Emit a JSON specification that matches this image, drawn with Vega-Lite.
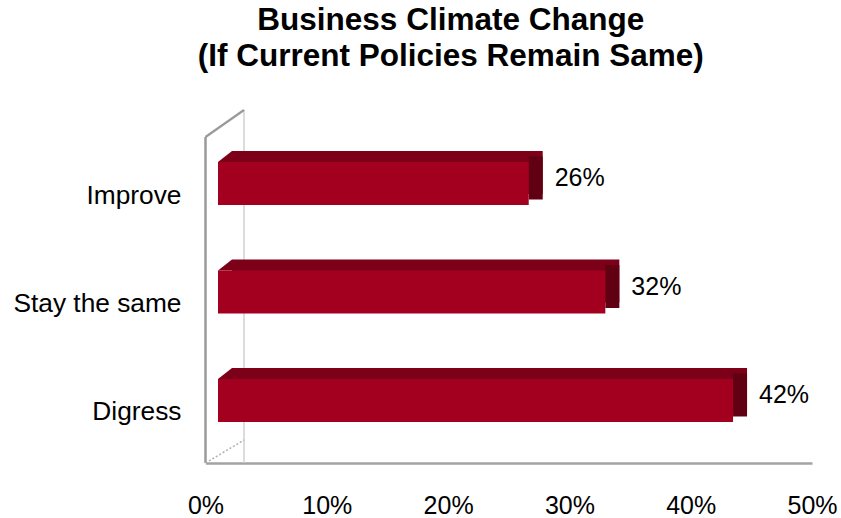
{
  "$schema": "https://vega.github.io/schema/vega-lite/v6.json",
  "width": 606.5,
  "height": 326,
  "autosize": "none",
  "padding": {"left": 205.5, "top": 137, "right": 29, "bottom": 55},
  "background": "white",
  "title": {
    "text": ["Business Climate Change", "(If Current Policies Remain Same)"],
    "font": "Liberation Sans",
    "fontSize": 31.5,
    "fontWeight": "bold",
    "color": "black",
    "lineHeight": 36,
    "anchor": "middle",
    "frame": "group",
    "dx": -58,
    "offset": 33
  },
  "data": {
    "values": [
      {"category": "Improve", "value": 0.26},
      {"category": "Stay the same", "value": 0.32},
      {"category": "Digress", "value": 0.42}
    ]
  },
  "resolve": {
    "scale": {"x": "independent", "y": "independent"},
    "axis": {"x": "independent", "y": "independent"}
  },
  "layer": [
    {
      "data": {"values": [{}]},
      "layer": [
        {
          "mark": {"type": "rule", "color": "#d0d0d0", "strokeWidth": 1.5, "xOffset": 38.5, "yOffset": -27, "y2Offset": -23},
          "encoding": {
            "x": {"datum": 0, "type": "quantitative", "scale": {"domain": [0, 0.5]},
              "axis": {
                "values": [0, 0.1, 0.2, 0.3, 0.4, 0.5],
                "format": ".0%",
                "grid": false,
                "ticks": false,
                "tickSize": 0,
                "domainColor": "#a3a3a3",
                "domainWidth": 2.5,
                "labelFontSize": 25,
                "labelColor": "black",
                "labelFont": "Liberation Sans",
                "labelPadding": 30,
                "labelFlush": false,
                "labelOverlap": false,
                "title": null
              }
            }
          }
        },
        {
          "mark": {"type": "rule", "color": "#9a9a9a", "strokeWidth": 2.5},
          "encoding": {"x": {"datum": 0, "type": "quantitative"}}
        },
        {
          "mark": {"type": "point", "shape": "M0,0L1,-0.7013", "size": 5929, "filled": false, "stroke": "#9a9a9a", "strokeWidth": 2.2, "opacity": 1},
          "encoding": {
            "x": {"datum": 0, "type": "quantitative"},
            "y": {"datum": 1, "type": "quantitative", "scale": {"domain": [0, 1]}, "axis": null}
          }
        },
        {
          "mark": {"type": "point", "shape": "M0,0L1,-0.597", "size": 5929, "filled": false, "stroke": "#b0b0b0", "strokeWidth": 1.5, "strokeDash": [2, 2], "opacity": 1},
          "encoding": {
            "x": {"datum": 0, "type": "quantitative"},
            "y": {"datum": 0, "type": "quantitative"}
          }
        }
      ]
    },
    {
      "transform": [
        {"stack": "value", "groupby": ["category"], "as": ["v0", "v1"]}
      ],
      "layer": [
        {
          "mark": {"type": "rect", "color": "#7b0018", "xOffset": 35.3, "x2Offset": 14, "yOffset": -11},
          "encoding": {
            "x": {"field": "v0", "type": "quantitative", "scale": {"domain": [0, 0.5], "range": [-8.8, 629.7]}, "axis": null},
            "x2": {"field": "v1"},
            "y": {
              "field": "category",
              "type": "nominal",
              "sort": ["Improve", "Stay the same", "Digress"],
              "scale": {"range": [-16, 326], "paddingInner": 0.6037, "paddingOuter": 0.378},
              "axis": {
                "orient": "left",
                "title": null,
                "domain": false,
                "ticks": false,
                "tickSize": 0,
                "labelFontSize": 26.3,
                "labelFont": "Liberation Sans",
                "labelColor": "black",
                "labelPadding": 24.5,
                "labelOffset": 12,
                "labelBaseline": "middle"
              }
            }
          }
        },
        {
          "mark": {"type": "point", "shape": "M0,0L1,-0.7857L1,0Z", "size": 784, "filled": true, "color": "#7b0018", "opacity": 1, "strokeWidth": 0, "xOffset": 21.3, "yOffset": -21.5},
          "encoding": {
            "x": {"field": "v0", "type": "quantitative"},
            "y": {"field": "category", "type": "nominal", "sort": ["Improve", "Stay the same", "Digress"]}
          }
        },
        {
          "mark": {"type": "rect", "color": "#610012", "x2Offset": 14, "yOffset": -5.5},
          "encoding": {
            "x": {"field": "v1", "type": "quantitative"},
            "x2": {"field": "v1"},
            "y": {"field": "category", "type": "nominal", "sort": ["Improve", "Stay the same", "Digress"]}
          }
        },
        {
          "mark": {"type": "rect", "color": "#a3001f", "xOffset": 21.3},
          "encoding": {
            "x": {"field": "v0", "type": "quantitative"},
            "x2": {"field": "v1"},
            "y": {"field": "category", "type": "nominal", "sort": ["Improve", "Stay the same", "Digress"]}
          }
        },
        {
          "mark": {"type": "text", "align": "left", "baseline": "middle", "dx": 26, "dy": -5.5, "fontSize": 25, "font": "Liberation Sans", "color": "black"},
          "encoding": {
            "x": {"field": "value", "type": "quantitative"},
            "y": {"field": "category", "type": "nominal", "sort": ["Improve", "Stay the same", "Digress"]},
            "text": {"field": "value", "format": ".0%"}
          }
        }
      ]
    }
  ],
  "config": {"view": {"stroke": null}, "font": "Liberation Sans"}
}
